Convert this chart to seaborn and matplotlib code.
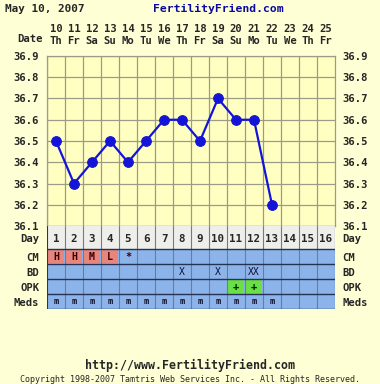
import pandas as pd
import matplotlib
matplotlib.use("Agg")
import matplotlib.pyplot as plt
import seaborn as sns

# chart data
cycle_days = list(range(1, 17))
dates = [10, 11, 12, 13, 14, 15, 16, 17, 18, 19, 20, 21, 22, 23, 24, 25]
weekdays = ["Th", "Fr", "Sa", "Su", "Mo", "Tu", "We", "Th",
            "Fr", "Sa", "Su", "Mo", "Tu", "We", "Th", "Fr"]
temp_days = list(range(1, 14))
temps = [36.5, 36.3, 36.4, 36.5, 36.4, 36.5, 36.6, 36.6, 36.5, 36.7, 36.6, 36.6, 36.2]
temp_ticks = [36.1, 36.2, 36.3, 36.4, 36.5, 36.6, 36.7, 36.8, 36.9]

cm_days = [1, 2, 3, 4, 5]
cm_codes = ["H", "H", "M", "L", "*"]
bd_days = [8, 10, 12]
bd_codes = ["X", "X", "XX"]
opk_days = [11, 12]
opk_codes = ["+", "+"]
meds_days = list(range(1, 14))

row_names = ["Day", "CM", "BD", "OPK", "Meds"]

BG = "#FFFFD6"
PLOT_BG = "#FFFFC2"
GRID = "#9C9C84"
BLUE = "#1414D8"
ROW_BLUE = "#8CB4EA"
FONT = "DejaVu Sans Mono"

sns.set_style("white")
plt.rcParams["font.family"] = [FONT, "DejaVu Sans"]
plt.rcParams["font.weight"] = "bold"

fig = plt.figure(figsize=(3.8, 3.84), dpi=100, facecolor=BG)
W, H = 380, 384

# temperature panel
ax = fig.add_axes([47 / W, 158 / H, 288 / W, 170 / H])
ax.set_facecolor(PLOT_BG)
df = pd.DataFrame({"day": temp_days, "temp": temps})
sns.lineplot(data=df, x="day", y="temp", ax=ax, color=BLUE, marker="o",
             markersize=7, markeredgecolor=BLUE, linewidth=1.6, zorder=3)
ax.set_xlim(0.5, 16.5)
ax.set_ylim(36.1, 36.9)
for k in range(16):
    ax.axvline(k + 0.5, color=GRID, lw=0.9, zorder=1)
for t in temp_ticks:
    ax.axhline(t, color=GRID, lw=0.9, zorder=1)
ax.set_yticks(temp_ticks)
ax.set_yticklabels([f"{t:.1f}" for t in temp_ticks])
ax.tick_params(axis="y", left=False, right=False, labelleft=True,
               labelright=True, labelsize=7.6, pad=2)
ax.xaxis.tick_top()
ax.set_xticks(cycle_days)
ax.set_xticklabels([f"{d}\n{w}" for d, w in zip(dates, weekdays)],
                   linespacing=1.15)
ax.tick_params(axis="x", top=False, bottom=False, labelsize=7.6, pad=4)
ax.set_xlabel("")
ax.set_ylabel("")
for s in ax.spines.values():
    s.set_color(GRID)
    s.set_linewidth(0.9)

# table panel
tab = fig.add_axes([47 / W, 75 / H, 288 / W, 83 / H])
tab.set_xlim(0.5, 16.5)
tab.set_ylim(83, 0)
row_tops = [0, 23, 38, 53, 68]
row_h = [23, 15, 15, 15, 15]
tab.bar(cycle_days, [row_h[0]] * 16, bottom=row_tops[0], width=1,
        color="#EEEEEA", edgecolor="none")
for top, h in zip(row_tops[1:], row_h[1:]):
    tab.bar(cycle_days, [h] * 16, bottom=top, width=1,
            color=ROW_BLUE, edgecolor="none")
cm_color = ["#E8857C" if c != "*" else ROW_BLUE for c in cm_codes]
tab.bar(cm_days, [13] * len(cm_days), bottom=24, width=0.86,
        color=cm_color, edgecolor="none")
tab.bar(opk_days, [13] * len(opk_days), bottom=54, width=0.86,
        color="#68E046", edgecolor="none")
for k in range(17):
    tab.axvline(k + 0.5, color="#7A7A7A" if k not in (0, 16) else "#333344",
                lw=0.8)
for y in row_tops[1:] + [83]:
    tab.axhline(y, color="#223355", lw=1.0)

for d in cycle_days:
    tab.text(d, 12.5, str(d), ha="center", va="center", fontsize=7.8)
for d, c in zip(cm_days, cm_codes):
    tab.text(d, 31, c, ha="center", va="center", fontsize=7.2,
             color="#3A0000")
for d, c in zip(bd_days, bd_codes):
    tab.text(d, 46, c, ha="center", va="center", fontsize=7.0,
             color="#111133", fontweight="normal")
for d, c in zip(opk_days, opk_codes):
    tab.text(d, 61, c, ha="center", va="center", fontsize=7.5,
             color="#002200")
for d in meds_days:
    tab.text(d, 76, "m", ha="center", va="center", fontsize=6.2,
             color="#101028")

tab.set_yticks([11.5, 31, 46, 61, 76])
tab.set_yticklabels(row_names)
tab.tick_params(axis="y", left=False, right=False, labelleft=True,
                labelright=True, labelsize=7.6, pad=2)
tab.set_xticks([])
for s in tab.spines.values():
    s.set_visible(False)

# header and footer
fig.text(5 / W, 1 - 9 / H, "May 10, 2007", fontsize=7.9, va="center",
         ha="left")
fig.text(218 / W, 1 - 9 / H, "FertilityFriend.com", fontsize=8.2,
         va="center", ha="center", color="#0A0AA0")
fig.text(43 / W, 1 - 39 / H, "Date", fontsize=7.6, va="center", ha="right")
fig.text(190 / W, 1 - 365 / H, "http://www.FertilityFriend.com",
         fontsize=8.4, va="center", ha="center")
fig.text(190 / W, 1 - 379 / H,
         "Copyright 1998-2007 Tamtris Web Services Inc. - All Rights Reserved.",
         fontsize=6.0, va="center", ha="center", fontweight="normal")

fig.savefig("out.png", dpi=100, facecolor=BG)
